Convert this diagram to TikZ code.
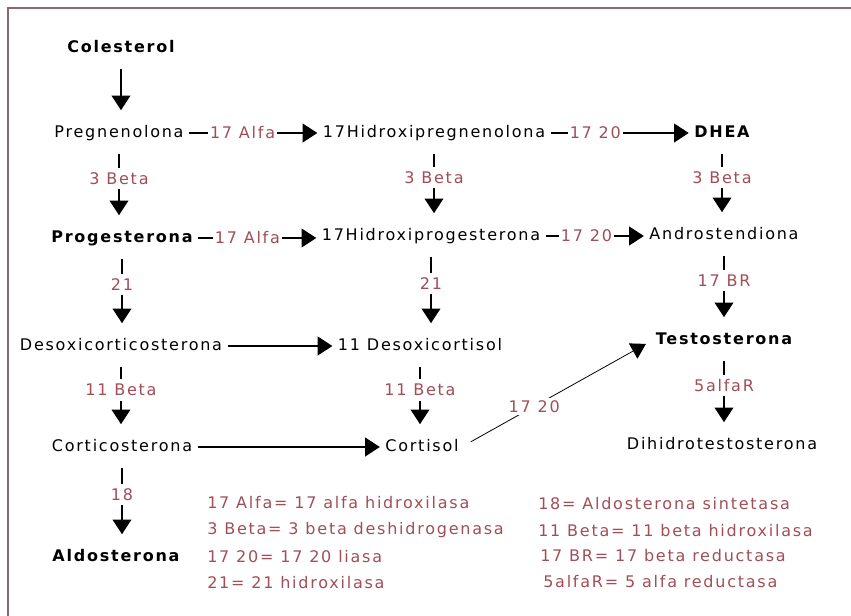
\documentclass[tikz,border=0pt]{standalone}
\usepackage{fontspec}
\setmainfont{DejaVu Sans}[LetterSpace=11]
\usepackage{tikz}
\usetikzlibrary{arrows.meta}
\definecolor{enzred}{RGB}{160,78,88}
\definecolor{framemauve}{RGB}{140,100,120}

\begin{document}
\begin{tikzpicture}[x=0.75pt,y=0.75pt,yscale=-1,xscale=1,
    mol/.style={inner xsep=2pt, inner ysep=1pt, text height=9pt, text depth=2.8pt, font=\fontsize{12}{14}\selectfont},
    molb/.style={mol, font=\fontsize{12}{14}\selectfont\bfseries},
    enz/.style={fill=white, text=enzred, inner xsep=1.5pt, inner ysep=3.5pt, font=\fontsize{12}{14}\selectfont},
    leg/.style={anchor=west, text=enzred, inner sep=0pt, font=\fontsize{12}{14}\selectfont},
    flow/.style={line width=1.4pt, shorten <=2pt, shorten >=2pt, -{Triangle[length=11pt,width=14pt]}},
    vflow/.style={flow, shorten <=9pt, shorten >=10pt},
    slant/.style={line width=0.6pt, shorten <=8pt, shorten >=6pt, -{Triangle[length=11pt,width=13pt]}}
]
    \useasboundingbox (0,0) rectangle (851,616);
    %Frame
    \draw [framemauve, line width=1.4pt] (851,8) -- (8,8) -- (8,616) ;

    % Text Node
    \node [molb] (col) at (121,48) {Colesterol};
    % Text Node
    \node [mol] (preg) at (119,133) {Pregnenolona};
    % Text Node
    \node [mol] (hpreg) at (434,133) {17Hidroxipregnenolona};
    % Text Node
    \node [molb] (dhea) at (722,133) {DHEA};
    % Text Node
    \node [molb] (prog) at (122,238) {Progesterona};
    % Text Node
    \node [mol] (hprog) at (431,236) {17Hidroxiprogesterona};
    % Text Node
    \node [mol] (andro) at (724,235) {Androstendiona};
    % Text Node
    \node [mol] (doc) at (121,346) {Desoxicorticosterona};
    % Text Node
    \node [mol] (dcort) at (420,346) {11 Desoxicortisol};
    % Text Node
    \node [molb] (testo) at (724,340) {Testosterona};
    % Text Node
    \node [mol] (cortico) at (122,447) {Corticosterona};
    % Text Node
    \node [mol] (cortisol) at (422,447) {Cortisol};
    % Text Node
    \node [mol] (dht) at (722,445) {Dihidrotestosterona};
    % Text Node
    \node [molb] (aldo) at (116,557) {Aldosterona};

    %Vertical Arrows
    \draw [vflow] (col.south) -- (col.south |- preg.north) ;
    \draw [vflow] (preg.south) -- node [enz, pos=0.42] {3 Beta} (preg.south |- prog.north) ;
    \draw [vflow] (hpreg.south) -- node [enz, pos=0.42] {3 Beta} (hpreg.south |- hprog.north) ;
    \draw [vflow] (dhea.south) -- node [enz, pos=0.42] {3 Beta} (dhea.south |- andro.north) ;
    \draw [vflow] (prog.south) -- node [enz, pos=0.42] {21} (prog.south |- doc.north) ;
    \draw [vflow] (hprog.south) -- node [enz, pos=0.42] {21} (hprog.south |- dcort.north) ;
    \draw [vflow] (andro.south) -- node [enz, pos=0.42] {17 BR} (andro.south |- testo.north) ;
    \draw [vflow] (doc.south) -- node [enz, pos=0.42] {11 Beta} (doc.south |- cortico.north) ;
    \draw [vflow] (dcort.south) -- node [enz, pos=0.42] {11 Beta} (dcort.south |- cortisol.north) ;
    \draw [vflow] (testo.south) -- node [enz, pos=0.42] {5alfaR} (testo.south |- dht.north) ;
    \draw [vflow] (cortico.south) -- node [enz, pos=0.42] {18} (cortico.south |- aldo.north) ;

    %Horizontal Arrows
    \draw [flow] (preg) -- node [enz, pos=0.42] {17 Alfa} (hpreg) ;
    \draw [flow] (hpreg) -- node [enz, pos=0.33] {17 20} (dhea) ;
    \draw [flow] (prog.east) -- node [enz, pos=0.42] {17 Alfa} (prog.east -| hprog.west) ;
    \draw [flow] (hprog.east) -- node [enz, pos=0.42] {17 20} (hprog.east -| andro.west) ;
    \draw [flow] (doc) -- (dcort) ;
    \draw [flow] (cortico) -- (cortisol) ;
    %Straight Lines
    \draw [slant] (cortisol.east) -- node [enz, inner ysep=2pt, pos=0.38] {17 20} (testo.west) ;

    % Legend
    \node [leg] (leg1) at (207,503) {17 Alfa= 17 alfa hidroxilasa};
    \node [leg] (leg2) at (207,530) {3 Beta= 3 beta deshidrogenasa};
    \node [leg] (leg3) at (207,557) {17 20= 17 20 liasa};
    \node [leg] (leg4) at (207,583) {21= 21 hidroxilasa};
    \node [leg] (leg5) at (538,504) {18= Aldosterona sintetasa};
    \node [leg] (leg6) at (538,531) {11 Beta= 11 beta hidroxilasa};
    \node [leg] (leg7) at (540,556) {17 BR= 17 beta reductasa};
    \node [leg] (leg8) at (543,582) {5alfaR= 5 alfa reductasa};
\end{tikzpicture}
\end{document}
